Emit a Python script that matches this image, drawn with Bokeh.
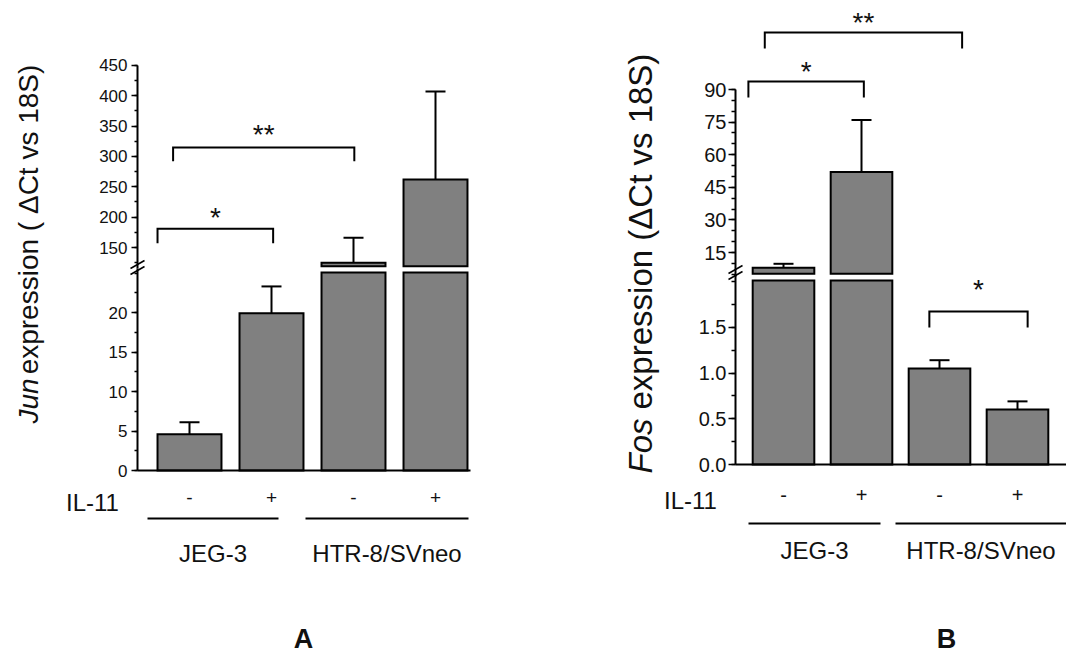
import numpy as np
from bokeh.plotting import figure
from bokeh.models import Range1d, LinearAxis, FixedTicker, PrintfTickFormatter
from bokeh.layouts import row
from bokeh.embed import file_html
from bokeh.resources import INLINE
from bokeh.core.properties import value

# ---------------- data ----------------
il11 = ["-", "+", "-", "+"]
cell_lines = ["JEG-3", "HTR-8/SVneo"]
jun_mean = [4.6, 19.9, 125.0, 262.0]
jun_sem = [1.5, 3.4, 41.0, 145.0]
fos_mean = [8.0, 52.0, 1.05, 0.60]
fos_sem = [1.8, 24.0, 0.09, 0.09]
jun_ticks_low = [0, 5, 10, 15, 20]
jun_ticks_high = [150, 200, 250, 300, 350, 400, 450]
fos_ticks_low = [0.0, 0.5, 1.0, 1.5]
fos_ticks_high = [15, 30, 45, 60, 75, 90]
jun_title = ["Jun", "expression ( \u0394Ct vs 18S)"]
fos_title = ["Fos", "expression (\u0394Ct vs 18S)"]
panel_letters = ["A", "B"]
jun_sig = ["*", "**"]
fos_sig = ["**", "*", "*"]

FONT_NAME = "Liberation Sans"
FONT = value(FONT_NAME)
PAGE_Y0 = 0

# ---------------- layout (page pixels / scale definitions) ----------------
LAY_A = dict(
    page_x=0, W=533, H=652, c1=189, dx=82, bar_w=0.78, cap_px=20, axis_px=137, base_end_px=470,
    lo_zero=470, lo_ppu=7.9, lo_bar_top=25.06, lo_axis_top=25.6, lo_minor=2.5,
    hi_ref=(150, 247), hi_ppu=0.6067, hi_bar_bot=119.2, hi_axis_bot=115, hi_minor=25,
    tick_font="17px", tick_standoff=4, lo_fmt="%d", hi_fmt="%d", major_len=6, minor_len=3,
    brackets=[(0.61, 2.02, 181, 157, "hi", 15), (0.80, 3.01, 315, 292, "hi", 17)],
    breaks=[(137, 264), (137, 270)],
    title_x=28, title_y0=423, title_size=28, title_gap=4,
    il11_xy=(92, 502), pm_standoff=20, pm_font="19px",
    group_y=518, groups=[(147, 278), (305, 468)], group_label_y=553,
    letter_xy=(303, 638),
)
LAY_B = dict(
    page_x=533, W=533, H=652, c1=783, dx=78, bar_w=0.79, cap_px=20, axis_px=735, base_end_px=1066,
    lo_zero=464, lo_ppu=91.5, lo_bar_top=2.01, lo_axis_top=2.08, lo_minor=0.25,
    hi_ref=(15, 252), hi_ppu=2.173, hi_bar_bot=5.2, hi_axis_bot=4.0, hi_minor=5,
    tick_font="20px", tick_standoff=2, lo_fmt="%.1f", hi_fmt="%d", major_len=7, minor_len=4,
    brackets=[(0.76, 3.29, 116.2, 108.9, "hi", 14), (0.55, 2.03, 93.7, 86.3, "hi", 14),
              (2.87, 4.13, 1.672, 1.497, "default", 26)],
    breaks=[(735, 269), (735, 275)],
    title_x=640, title_y0=473, title_size=33, title_gap=9,
    il11_xy=(690, 500), pm_standoff=23, pm_font="20px",
    group_y=523, groups=[(748, 880), (895, 1066)], group_label_y=550,
    letter_xy=(946, 638),
)


def build(c, mean, sem, lo_ticks, hi_ticks, title, letter, sig):
    X0, Y0, W, H, dx = c["page_x"], PAGE_Y0, c["W"], c["H"], c["dx"]

    def xdata(px):
        return 1 + (px - c["c1"]) / dx

    lo_zero, lo_ppu = c["lo_zero"], c["lo_ppu"]
    hv, hy = c["hi_ref"]
    hppu = c["hi_ppu"]
    p = figure(width=W, height=H, title=None,
               x_range=Range1d(xdata(X0), xdata(X0 + W)),
               y_range=Range1d(-(Y0 + H - lo_zero) / lo_ppu, (lo_zero - Y0) / lo_ppu),
               x_axis_type=None, y_axis_type=None, toolbar_location=None,
               output_backend="svg", min_border=0, outline_line_color=None)
    p.extra_y_ranges = {"hi": Range1d(hv - (Y0 + H - hy) / hppu, hv + (hy - Y0) / hppu),
                        "py": Range1d(Y0 + H, Y0)}
    p.extra_x_ranges = {"px": Range1d(X0, X0 + W)}

    x = np.arange(1, len(mean) + 1, dtype=float)
    m = np.array(mean, dtype=float)
    s = np.array(sem, dtype=float)
    bw = c["bar_w"]
    style = dict(fill_color="#808080", line_color="black", line_width=2, line_join="miter")

    # lower segment of each bar
    p.quad(left=x - bw / 2, right=x + bw / 2, bottom=np.zeros_like(m),
           top=np.minimum(m, c["lo_bar_top"]), **style)
    # upper segment for bars that pass the break
    hi = m > c["hi_bar_bot"]
    p.quad(left=(x - bw / 2)[hi], right=(x + bw / 2)[hi],
           bottom=np.full(hi.sum(), c["hi_bar_bot"]), top=m[hi], y_range_name="hi", **style)

    # error bars (upper only)
    et = m + s
    cap = c["cap_px"] / dx / 2
    in_lo = m <= c["lo_bar_top"]
    for mask, rn in ((in_lo, "default"), (~in_lo, "hi")):
        if mask.sum() == 0:
            continue
        p.segment(x0=x[mask], y0=m[mask], x1=x[mask], y1=et[mask],
                  line_color="black", line_width=2, y_range_name=rn)
        p.segment(x0=x[mask] - cap, y0=et[mask], x1=x[mask] + cap, y1=et[mask],
                  line_color="black", line_width=2, y_range_name=rn)

    # axes
    xa = xdata(c["axis_px"])
    ax_style = dict(axis_line_width=2, major_tick_line_width=1.5, minor_tick_line_width=1.5,
                    major_tick_out=c["major_len"], major_tick_in=0,
                    minor_tick_out=c["minor_len"], minor_tick_in=0,
                    major_label_text_font=FONT_NAME, major_label_text_font_size=c["tick_font"],
                    major_label_text_color="#111111", major_label_standoff=c["tick_standoff"])
    lo_minor = [float(v) for v in np.arange(0, c["lo_axis_top"], c["lo_minor"])]
    ax_lo = LinearAxis(fixed_location=xa, bounds=(0, c["lo_axis_top"]),
                       ticker=FixedTicker(ticks=lo_ticks, minor_ticks=lo_minor),
                       formatter=PrintfTickFormatter(format=c["lo_fmt"]), **ax_style)
    p.add_layout(ax_lo, "left")
    hi_start = np.ceil(c["hi_axis_bot"] / c["hi_minor"]) * c["hi_minor"]
    hi_minor = [float(v) for v in np.arange(hi_start, max(hi_ticks) + 1e-9, c["hi_minor"])]
    ax_hi = LinearAxis(y_range_name="hi", fixed_location=xa,
                       bounds=(c["hi_axis_bot"], max(hi_ticks)),
                       ticker=FixedTicker(ticks=hi_ticks, minor_ticks=hi_minor),
                       formatter=PrintfTickFormatter(format=c["hi_fmt"]), **ax_style)
    p.add_layout(ax_hi, "left")
    ax_x = LinearAxis(fixed_location=0, bounds=(xa, xdata(c["base_end_px"])),
                      ticker=FixedTicker(ticks=[int(v) for v in x]),
                      major_label_overrides={int(v): t for v, t in zip(x, il11)},
                      axis_line_width=2, major_tick_line_color=None, minor_tick_line_color=None,
                      major_tick_out=0, major_tick_in=0,
                      major_label_text_font=FONT_NAME, major_label_text_font_size=c["pm_font"],
                      major_label_text_color="#111111", major_label_standoff=c["pm_standoff"])
    p.add_layout(ax_x, "below")

    # axis break marks
    for bx, by in c["breaks"]:
        p.segment(x0=[bx - 7], y0=[by + 4], x1=[bx + 7], y1=[by - 4], line_color="black",
                  line_width=1.5, x_range_name="px", y_range_name="py")

    # significance brackets
    for (x0, x1, yl, yg, rn, above), lab in zip(c["brackets"], sig):
        p.line(x=[x0, x0, x1, x1], y=[yg, yl, yl, yg], line_color="black", line_width=2,
               line_join="miter", y_range_name=rn)
        p.text(x=[(x0 + x1) / 2], y=[yl], text=[lab], y_range_name=rn, text_font=FONT,
               text_font_size="28px", text_align="center", text_baseline="alphabetic",
               y_offset=-above + 4, text_color="#111111")

    # y-axis title (italic gene name + rest)
    ts = c["title_size"]
    tkw = dict(x_range_name="px", y_range_name="py", angle=np.pi / 2, text_font=FONT,
               text_font_size=f"{ts}px", text_align="left", text_baseline="middle",
               text_color="#111111")
    p.text(x=[c["title_x"]], y=[c["title_y0"]], text=[title[0]], text_font_style="italic", **tkw)
    w_gene = 1.667 * ts if title[0] == "Fos" else 1.612 * ts
    p.text(x=[c["title_x"]], y=[c["title_y0"] - w_gene - c["title_gap"]], text=[title[1]], **tkw)

    # IL-11 row, group lines and labels, panel letter
    lkw = dict(x_range_name="px", y_range_name="py", text_font=FONT, text_align="center",
               text_baseline="middle", text_color="#111111")
    p.text(x=[c["il11_xy"][0]], y=[c["il11_xy"][1]], text=["IL-11"], text_font_size="24px", **lkw)
    gx0 = [g[0] for g in c["groups"]]
    gx1 = [g[1] for g in c["groups"]]
    p.segment(x0=gx0, y0=[c["group_y"]] * 2, x1=gx1, y1=[c["group_y"]] * 2, line_color="black",
              line_width=2, x_range_name="px", y_range_name="py")
    p.text(x=[(a + b) / 2 for a, b in c["groups"]], y=[c["group_label_y"]] * 2, text=cell_lines,
           text_font_size="24px", **lkw)
    p.text(x=[c["letter_xy"][0]], y=[c["letter_xy"][1]], text=[letter], text_font_size="27px",
           text_font_style="bold", **lkw)
    return p


pA = build(LAY_A, jun_mean, jun_sem, jun_ticks_low, jun_ticks_high, jun_title, panel_letters[0], jun_sig)
pB = build(LAY_B, fos_mean, fos_sem, fos_ticks_low, fos_ticks_high, fos_title, panel_letters[1], fos_sig)

layout = row(pA, pB, spacing=0)
open("out.html", "w").write(file_html(layout, INLINE))
